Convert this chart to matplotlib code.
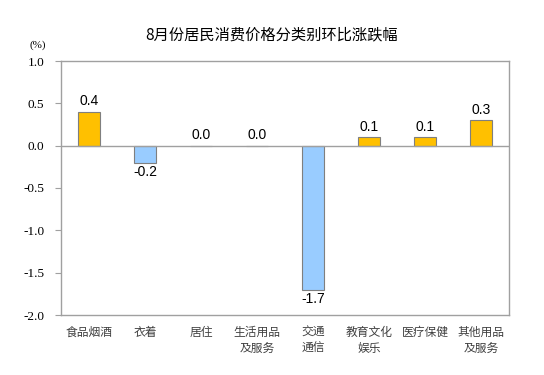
import numpy as np
import matplotlib.pyplot as plt

plt.rcParams['font.family'] = ['Noto Sans CJK SC', 'DejaVu Sans']

categories = ['食品烟酒', '衣着', '居住', '生活用品\n及服务', '交通\n通信', '教育文化\n娱乐', '医疗保健', '其他用品\n及服务']
values = [0.4, -0.2, 0.0, 0.0, -1.7, 0.1, 0.1, 0.3]
yticks = [1.0, 0.5, 0.0, -0.5, -1.0, -1.5, -2.0]

fig = plt.figure(figsize=(5.44, 3.75), dpi=100)
ax = fig.add_axes([61 / 544, 1 - 315 / 375, 448 / 544, 254 / 375])

x = np.arange(len(categories))
colors = ['#FFC000' if v >= 0 else '#99CCFF' for v in values]
ax.bar(x, values, width=0.41, color=colors, edgecolor='#7F7F7F', linewidth=0.8, zorder=3)
ax.axhline(0, color='#A0A0A0', linewidth=1.0, zorder=4)

for xi, v in zip(x, values):
    if v >= 0:
        ax.text(xi, v + 0.04, f'{v:.1f}', ha='center', va='bottom', fontsize=10,
                family='Liberation Sans')
    else:
        ax.text(xi, v - 0.03, f'{v:.1f}', ha='center', va='top', fontsize=10,
                family='Liberation Sans')

ax.set_xlim(-0.5, len(categories) - 0.5)
ax.set_ylim(-2.0, 1.0)
ax.set_yticks(yticks)
ax.set_yticklabels([f'{t:.1f}' for t in yticks], family='Liberation Serif', fontsize=9.5)
ax.set_xticks(x)
ax.set_xticklabels(categories, fontsize=8.5, color='#404040', linespacing=1.3)
ax.tick_params(axis='x', length=0, pad=8)
ax.tick_params(axis='y', length=4, color='#A0A0A0', pad=8)
for s in ax.spines.values():
    s.set_color('#A0A0A0')
    s.set_linewidth(1.0)

fig.text(38 / 544, 1 - 45 / 375, '(%)', ha='center', va='center', fontsize=8,
         family='Liberation Serif')
fig.text(0.5, 1 - 35 / 375, '8月份居民消费价格分类别环比涨跌幅', ha='center', va='center',
         fontsize=11)

fig.savefig('out.png', dpi=100, facecolor='white')
